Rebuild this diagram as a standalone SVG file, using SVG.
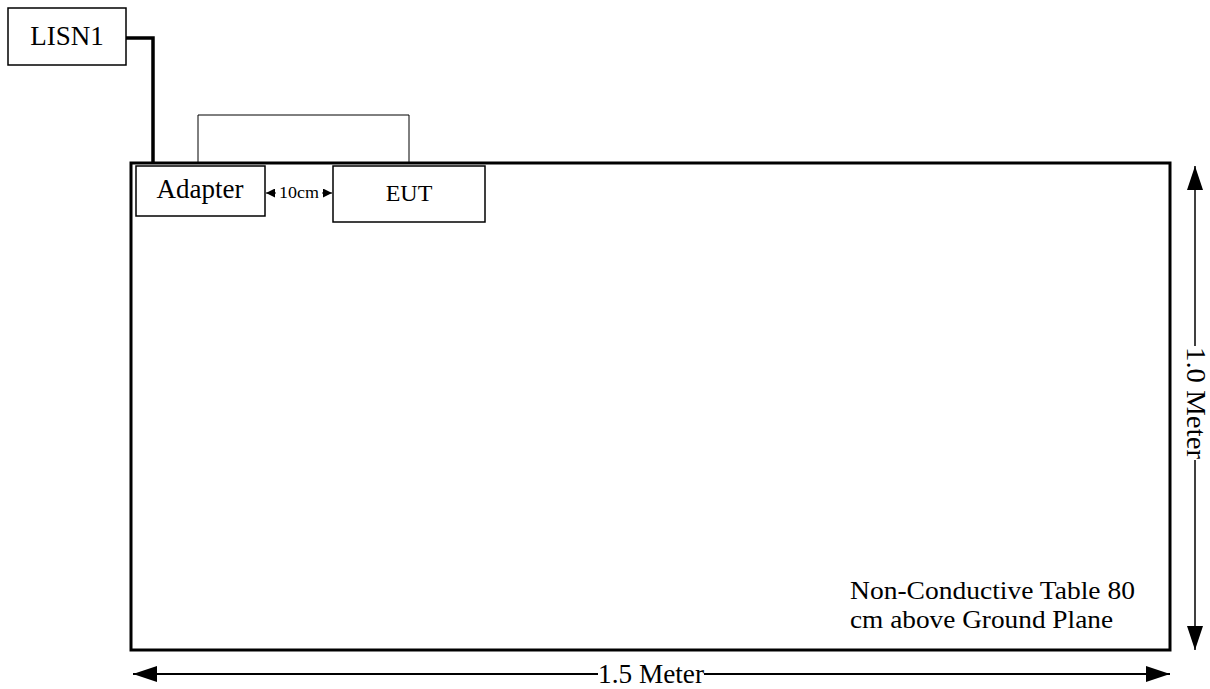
<svg xmlns="http://www.w3.org/2000/svg" width="1210" height="689" viewBox="0 0 1210 689">
<defs>
<style>
text{font-family:"Liberation Serif","Times New Roman",serif;fill:#000}
.box{fill:#fff;stroke:#000;stroke-width:1.5}
</style>
<marker id="ah" viewBox="0 0 10 10" refX="10" refY="5" markerWidth="9" markerHeight="9" markerUnits="userSpaceOnUse" orient="auto-start-reverse"><path d="M0,0L10,5L0,10z" fill="#000"/></marker>
<marker id="big" viewBox="0 0 24 16" refX="24" refY="8" markerWidth="24" markerHeight="16" markerUnits="userSpaceOnUse" orient="auto-start-reverse"><path d="M0,0L24,8L0,16z" fill="#000"/></marker>
</defs>
<rect width="1210" height="689" fill="#fff"/>
<g id="table">
<rect x="131" y="163" width="1039" height="487" fill="none" stroke="#000" stroke-width="3"/>
<text x="850" y="599" font-size="25" textLength="285" lengthAdjust="spacingAndGlyphs">Non-Conductive Table 80</text>
<text x="850" y="628" font-size="25" textLength="263" lengthAdjust="spacingAndGlyphs">cm above Ground Plane</text>
</g>
<g id="connectors" fill="none" stroke="#000">
<polyline points="126,38 153,38 153,163" stroke-width="3.5"/>
<polyline points="198,162 198,115 409,115 409,163" stroke-width="1"/>
<line x1="266" y1="193" x2="332" y2="193" stroke-width="1" marker-start="url(#ah)" marker-end="url(#ah)"/>
<line x1="1195" y1="166" x2="1195" y2="346" stroke-width="1.5" marker-start="url(#big)"/>
<line x1="1195" y1="460" x2="1195" y2="650" stroke-width="1.5" marker-end="url(#big)"/>
<line x1="133" y1="674" x2="598" y2="674" stroke-width="2" marker-start="url(#big)"/>
<line x1="704" y1="674" x2="1170" y2="674" stroke-width="2" marker-end="url(#big)"/>
</g>
<g id="lisn1">
<rect class="box" x="8" y="8" width="118" height="57"/>
<text x="67" y="45" font-size="27" text-anchor="middle">LISN1</text>
</g>
<g id="adapter">
<rect class="box" x="136" y="166" width="129" height="50"/>
<text x="200" y="198" font-size="27" text-anchor="middle">Adapter</text>
</g>
<g id="eut">
<rect class="box" x="333" y="166" width="152" height="56"/>
<text x="409" y="201" font-size="24" text-anchor="middle">EUT</text>
</g>
<g id="labels">
<rect x="276" y="184" width="46" height="18" fill="#fff"/>
<text x="299" y="198" font-size="17" text-anchor="middle" textLength="40" lengthAdjust="spacingAndGlyphs">10cm</text>
<text x="651" y="683" font-size="27" text-anchor="middle" textLength="106" lengthAdjust="spacingAndGlyphs">1.5 Meter</text>
<text transform="translate(1187,403) rotate(90)" font-size="27" text-anchor="middle" textLength="112" lengthAdjust="spacingAndGlyphs">1.0 Meter</text>
</g>
</svg>
